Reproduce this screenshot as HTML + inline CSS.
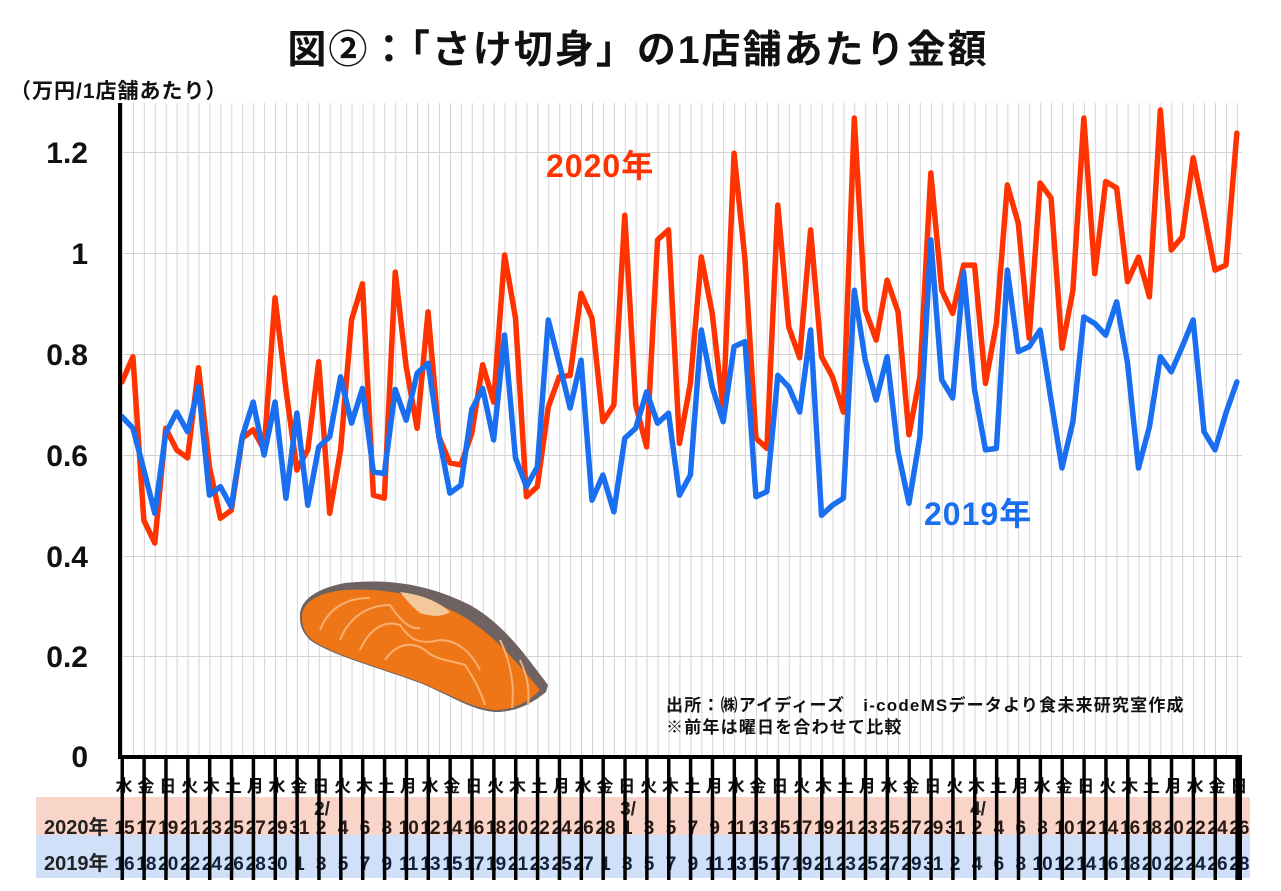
<!DOCTYPE html>
<html><head><meta charset="utf-8"><style>
html,body{margin:0;padding:0;background:#fff;}
svg{display:block;}
text{font-family:"Liberation Sans","Noto Sans CJK JP",sans-serif;font-weight:bold;}
</style></head><body>
<svg width="1281" height="891" viewBox="0 0 1281 891" xmlns="http://www.w3.org/2000/svg">
<defs>
<pattern id="vg" x="122" y="0" width="10.93" height="10" patternUnits="userSpaceOnUse">
<rect x="0" y="0" width="1" height="10" fill="#d4d4d4"/>
</pattern>
<pattern id="tk" x="120.5" y="0" width="21.86" height="10" patternUnits="userSpaceOnUse">
<rect x="0" y="0" width="3.5" height="10" fill="#000"/>
</pattern>
</defs>
<text x="638" y="63" font-size="39" letter-spacing="2" text-anchor="middle" fill="#111">図②：「さけ切身」の1店舗あたり金額</text>
<text x="10" y="98" font-size="21" letter-spacing="1" fill="#111">（万円/1店舗あたり）</text>
<rect x="122" y="103" width="1120" height="654" fill="url(#vg)"/>
<g stroke="#d4d4d4" stroke-width="1">
<line x1="120" y1="152.5" x2="1242" y2="152.5"/>
<line x1="120" y1="253.5" x2="1242" y2="253.5"/>
<line x1="120" y1="354.5" x2="1242" y2="354.5"/>
<line x1="120" y1="455.5" x2="1242" y2="455.5"/>
<line x1="120" y1="556.5" x2="1242" y2="556.5"/>
<line x1="120" y1="656.5" x2="1242" y2="656.5"/>
</g>
<rect x="36" y="797" width="1214" height="38" fill="#f9d5c9"/>
<rect x="36" y="835" width="1214" height="43" fill="#cfe0f8"/>
<g font-size="30" text-anchor="end" fill="#111">
<text x="88" y="163">1.2</text>
<text x="88" y="264">1</text>
<text x="88" y="365">0.8</text>
<text x="88" y="466">0.6</text>
<text x="88" y="567">0.4</text>
<text x="88" y="667">0.2</text>
<text x="88" y="767">0</text>
</g>
<g>
<path d="M300,618 C298,600 318,588 345,583 C390,578 430,585 470,605 C505,625 525,655 548,685 L546,692 C530,705 515,712 495,712 C470,710 450,695 420,683 C380,668 330,655 310,640 C302,632 300,625 300,618 Z" fill="#6e6262"/>
<path d="M302,618 C301,602 320,592 345,590 C385,588 420,595 455,612 C490,630 515,660 540,690 C528,703 512,710 495,710 C470,708 450,694 420,682 C380,667 330,654 311,639 C304,632 302,625 302,618 Z" fill="#ef7616"/>
<path d="M400,592 C425,595 440,603 450,612 C440,618 430,616 420,613 C410,605 405,598 400,592 Z" fill="#f3c99b"/>
<g fill="none" stroke="#f8b072" stroke-width="2">
<path d="M320,630 C330,605 350,598 370,598"/>
<path d="M340,640 C350,615 370,605 390,605 C400,620 410,630 420,628"/>
<path d="M360,650 C370,628 385,620 400,625 C410,640 420,645 440,640 C455,640 470,650 480,670"/>
<path d="M385,660 C395,645 410,640 425,650 C435,660 450,660 465,665 C475,680 480,690 485,705"/>
<path d="M500,640 C510,660 515,685 512,708"/>
<path d="M520,660 C527,675 530,690 528,705"/>
</g>
</g>
<g transform="translate(122,757) scale(10.93,-503.5)" fill="none" stroke-linejoin="round" stroke-linecap="round">
<polyline vector-effect="non-scaling-stroke" stroke="#ff3300" stroke-width="5.5" points="0,.745 1,.795 2,.47 3,.425 4,.653 5,.61 6,.594 7,.773 8,.576 9,.474 10,.49 11,.633 12,.65 13,.61 14,.912 15,.73 16,.57 17,.61 18,.785 19,.484 20,.61 21,.868 22,.94 23,.52 24,.514 25,.963 26,.775 27,.653 28,.884 29,.636 30,.584 31,.58 32,.643 33,.779 34,.705 35,.997 36,.872 37,.517 38,.537 39,.695 40,.755 41,.758 42,.921 43,.872 44,.666 45,.699 46,1.076 47,.699 48,.616 49,1.027 50,1.047 51,.623 52,.742 53,.993 54,.881 55,.69 56,1.199 57,.987 58,.633 59,.613 60,1.096 61,.854 62,.793 63,1.047 64,.795 65,.755 66,.685 67,1.269 68,.888 69,.828 70,.947 71,.884 72,.64 73,.755 74,1.16 75,.927 76,.881 77,.977 78,.977 79,.742 80,.861 81,1.136 82,1.06 83,.832 84,1.14 85,1.11 86,.812 87,.927 88,1.269 89,.96 90,1.143 91,1.13 92,.944 93,.993 94,.914 95,1.285 96,1.007 97,1.033 98,1.19 99,1.08 100,.967 101,.977 102,1.239"/>
<polyline vector-effect="non-scaling-stroke" stroke="#1a6ff0" stroke-width="5.5" points="0,.676 1,.653 2,.57 3,.484 4,.643 5,.685 6,.646 7,.735 8,.52 9,.537 10,.497 11,.636 12,.705 13,.6 14,.705 15,.514 16,.683 17,.5 18,.616 19,.636 20,.755 21,.663 22,.732 23,.566 24,.563 25,.73 26,.669 27,.762 28,.782 29,.636 30,.524 31,.54 32,.69 33,.732 34,.63 35,.838 36,.594 37,.537 38,.576 39,.868 40,.782 41,.693 42,.788 43,.51 44,.56 45,.487 46,.633 47,.653 48,.725 49,.663 50,.683 51,.52 52,.56 53,.848 54,.735 55,.666 56,.815 57,.825 58,.517 59,.527 60,.758 61,.735 62,.685 63,.848 64,.48 65,.5 66,.514 67,.927 68,.788 69,.709 70,.795 71,.606 72,.504 73,.636 74,1.027 75,.749 76,.713 77,.963 78,.73 79,.61 80,.613 81,.967 82,.805 83,.815 84,.848 85,.709 86,.574 87,.666 88,.874 89,.861 90,.838 91,.904 92,.782 93,.574 94,.656 95,.795 96,.765 97,.815 98,.868 99,.646 100,.61 101,.683 102,.745"/>
</g>
<text x="546" y="177" font-size="32" letter-spacing="1" fill="#ff3300">2020年</text>
<text x="924" y="525" font-size="32" letter-spacing="1" fill="#1a6ff0">2019年</text>
<text x="666" y="711" font-size="17" letter-spacing="1.2" fill="#111">出所：㈱アイディーズ　i-codeMSデータより食未来研究室作成</text>
<text x="666" y="733" font-size="17" letter-spacing="1.2" fill="#111">※前年は曜日を合わせて比較</text>
<text x="44" y="834" font-size="20" fill="#222">2020年</text>
<text x="44" y="870" font-size="20" fill="#222">2019年</text>
<g font-size="17" text-anchor="middle" fill="#111">
<text x="124" y="792">水</text><text x="145.9" y="792">金</text><text x="167.7" y="792">日</text><text x="189.6" y="792">火</text><text x="211.4" y="792">木</text><text x="233.3" y="792">土</text><text x="255.2" y="792">月</text>
<text x="277" y="792">水</text><text x="298.9" y="792">金</text><text x="320.7" y="792">日</text><text x="342.6" y="792">火</text><text x="364.5" y="792">木</text><text x="386.3" y="792">土</text><text x="408.2" y="792">月</text>
<text x="430" y="792">水</text><text x="451.9" y="792">金</text><text x="473.8" y="792">日</text><text x="495.6" y="792">火</text><text x="517.5" y="792">木</text><text x="539.3" y="792">土</text><text x="561.2" y="792">月</text>
<text x="583.1" y="792">水</text><text x="604.9" y="792">金</text><text x="626.8" y="792">日</text><text x="648.6" y="792">火</text><text x="670.5" y="792">木</text><text x="692.4" y="792">土</text><text x="714.2" y="792">月</text>
<text x="736.1" y="792">水</text><text x="757.9" y="792">金</text><text x="779.8" y="792">日</text><text x="801.7" y="792">火</text><text x="823.5" y="792">木</text><text x="845.4" y="792">土</text><text x="867.2" y="792">月</text>
<text x="889.1" y="792">水</text><text x="911" y="792">金</text><text x="932.8" y="792">日</text><text x="954.7" y="792">火</text><text x="976.5" y="792">木</text><text x="998.4" y="792">土</text><text x="1020.3" y="792">月</text>
<text x="1042.1" y="792">水</text><text x="1064" y="792">金</text><text x="1085.8" y="792">日</text><text x="1107.7" y="792">火</text><text x="1129.6" y="792">木</text><text x="1151.4" y="792">土</text><text x="1173.3" y="792">月</text>
<text x="1195.1" y="792">水</text><text x="1217" y="792">金</text><text x="1238.9" y="792">日</text>
</g>
<g font-size="19" text-anchor="middle" fill="#222">
<text x="322" y="815">2/</text><text x="628" y="815">3/</text><text x="978" y="815">4/</text>
</g>
<g font-size="19" text-anchor="middle" fill="#2a1a14" letter-spacing="-1">
<text x="124" y="834">15</text><text x="145.9" y="834">17</text><text x="167.7" y="834">19</text><text x="189.6" y="834">21</text><text x="211.4" y="834">23</text><text x="233.3" y="834">25</text><text x="255.2" y="834">27</text><text x="277" y="834">29</text><text x="298.9" y="834">31</text>
<text x="320.7" y="834">2</text><text x="342.6" y="834">4</text><text x="364.5" y="834">6</text><text x="386.3" y="834">8</text><text x="408.2" y="834">10</text><text x="430" y="834">12</text><text x="451.9" y="834">14</text><text x="473.8" y="834">16</text><text x="495.6" y="834">18</text><text x="517.5" y="834">20</text><text x="539.3" y="834">22</text><text x="561.2" y="834">24</text><text x="583.1" y="834">26</text><text x="604.9" y="834">28</text>
<text x="626.8" y="834">1</text><text x="648.6" y="834">3</text><text x="670.5" y="834">5</text><text x="692.4" y="834">7</text><text x="714.2" y="834">9</text><text x="736.1" y="834">11</text><text x="757.9" y="834">13</text><text x="779.8" y="834">15</text><text x="801.7" y="834">17</text><text x="823.5" y="834">19</text><text x="845.4" y="834">21</text><text x="867.2" y="834">23</text><text x="889.1" y="834">25</text><text x="911" y="834">27</text><text x="932.8" y="834">29</text><text x="954.7" y="834">31</text>
<text x="976.5" y="834">2</text><text x="998.4" y="834">4</text><text x="1020.3" y="834">6</text><text x="1042.1" y="834">8</text><text x="1064" y="834">10</text><text x="1085.8" y="834">12</text><text x="1107.7" y="834">14</text><text x="1129.6" y="834">16</text><text x="1151.4" y="834">18</text><text x="1173.3" y="834">20</text><text x="1195.1" y="834">22</text><text x="1217" y="834">24</text><text x="1238.9" y="834">26</text>
</g>
<g font-size="19" text-anchor="middle" fill="#14203a" letter-spacing="-1">
<text x="124" y="870">16</text><text x="145.9" y="870">18</text><text x="167.7" y="870">20</text><text x="189.6" y="870">22</text><text x="211.4" y="870">24</text><text x="233.3" y="870">26</text><text x="255.2" y="870">28</text><text x="277" y="870">30</text>
<text x="298.9" y="870">1</text><text x="320.7" y="870">3</text><text x="342.6" y="870">5</text><text x="364.5" y="870">7</text><text x="386.3" y="870">9</text><text x="408.2" y="870">11</text><text x="430" y="870">13</text><text x="451.9" y="870">15</text><text x="473.8" y="870">17</text><text x="495.6" y="870">19</text><text x="517.5" y="870">21</text><text x="539.3" y="870">23</text><text x="561.2" y="870">25</text><text x="583.1" y="870">27</text>
<text x="604.9" y="870">1</text><text x="626.8" y="870">3</text><text x="648.6" y="870">5</text><text x="670.5" y="870">7</text><text x="692.4" y="870">9</text><text x="714.2" y="870">11</text><text x="736.1" y="870">13</text><text x="757.9" y="870">15</text><text x="779.8" y="870">17</text><text x="801.7" y="870">19</text><text x="823.5" y="870">21</text><text x="845.4" y="870">23</text><text x="867.2" y="870">25</text><text x="889.1" y="870">27</text><text x="911" y="870">29</text><text x="932.8" y="870">31</text>
<text x="954.7" y="870">2</text><text x="976.5" y="870">4</text><text x="998.4" y="870">6</text><text x="1020.3" y="870">8</text><text x="1042.1" y="870">10</text><text x="1064" y="870">12</text><text x="1085.8" y="870">14</text><text x="1107.7" y="870">16</text><text x="1129.6" y="870">18</text><text x="1151.4" y="870">20</text><text x="1173.3" y="870">22</text><text x="1195.1" y="870">24</text><text x="1217" y="870">26</text><text x="1238.9" y="870">28</text>
</g>
<rect x="120" y="757" width="1122" height="123" fill="url(#tk)"/>
<rect x="1238" y="757" width="4" height="123" fill="#000"/>
<rect x="118" y="103" width="4" height="656" fill="#000"/>
<rect x="118" y="755" width="1124" height="4" fill="#000"/>
</svg>
</body></html>
